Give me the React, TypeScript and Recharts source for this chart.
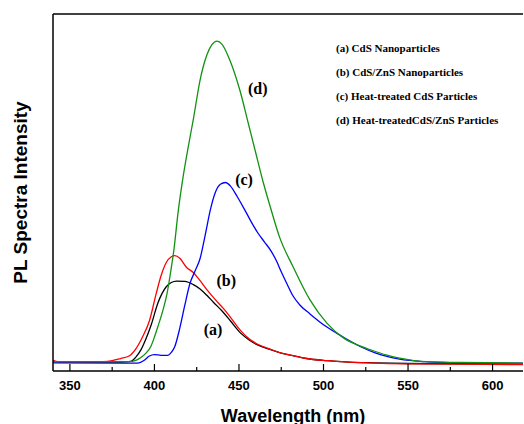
import { LineChart, Line, XAxis, YAxis, ReferenceDot } from 'recharts';

// wavelength (nm) / PL intensity (a.u., 0-100)
const waveA = [340, 360, 380, 386, 389, 392, 395, 398, 402, 407, 410, 413, 418, 423, 427, 431, 435, 440, 445, 451, 456, 461, 468, 475, 482, 490, 502, 515, 530, 550, 580, 618];
const intA = [2.6, 2.5, 2.5, 2.7, 3.9, 5.9, 9.0, 12.8, 19.0, 23.6, 24.8, 25.2, 25.1, 24.2, 23.0, 21.2, 19.2, 16.8, 14.0, 10.6, 8.7, 7.3, 6.1, 5.0, 4.3, 3.5, 2.9, 2.5, 2.3, 2.1, 2.0, 1.9];

const waveB = [340, 344, 360, 370, 375, 380, 385, 389, 393, 397, 401, 404, 407, 410, 412, 415, 419, 423, 427, 431, 436, 441, 446, 451, 456, 461, 468, 475, 482, 490, 502, 515, 530, 550, 580, 618];
const intB = [3.0, 2.5, 2.5, 2.6, 2.9, 3.5, 4.2, 6.2, 9.6, 14.0, 21.6, 26.8, 30.4, 32.0, 32.3, 31.6, 29.0, 27.6, 25.3, 22.8, 20.0, 17.4, 14.4, 11.3, 9.0, 7.5, 6.2, 5.0, 4.3, 3.5, 2.9, 2.5, 2.2, 2.0, 1.9, 1.8];

const waveC = [340, 380, 390, 394, 397, 400, 404, 408, 410, 412, 415, 418, 421, 424, 427, 430, 433, 436, 439, 442, 445, 449, 453, 457, 461, 465, 469, 472, 475, 478, 482, 486, 492, 502, 512, 522, 531, 545, 560, 580, 618];
const intC = [2.3, 2.2, 2.2, 3.0, 4.2, 4.6, 4.4, 4.4, 5.2, 6.8, 12.0, 18.5, 24.5, 28.0, 31.5, 38.0, 45.0, 50.0, 52.3, 52.8, 51.8, 48.8, 45.5, 42.0, 38.8, 36.2, 33.6, 31.0, 27.8, 24.8, 21.0, 18.5, 16.0, 12.3, 9.4, 6.8, 5.0, 3.3, 2.6, 2.3, 2.2];

const waveD = [340, 370, 385, 389, 392, 395, 398, 400, 402, 405, 407.5, 409.5, 411.5, 414, 417, 420, 423, 427, 431, 434, 437, 440, 444.5, 450.5, 455.5, 459.5, 464.5, 468.5, 474, 482, 492, 502, 512, 520, 528, 537, 545, 561, 580, 618];
const intD = [2.6, 2.6, 2.6, 3.0, 3.8, 5.0, 7.0, 9.5, 12.4, 17.0, 21.8, 27.5, 33.9, 44.5, 54.5, 62.8, 70.5, 81.5, 88.5, 91.4, 92.4, 91.5, 87.2, 78.7, 69.4, 61.9, 52.6, 46.0, 37.5, 29.2, 19.9, 13.4, 9.2, 7.3, 5.9, 4.5, 3.6, 2.6, 2.4, 2.2];

const seriesNames = [
  '(a) CdS Nanoparticles',
  '(b) CdS/ZnS Nanoparticles',
  '(c) Heat-treated CdS Particles',
  '(d) Heat-treatedCdS/ZnS Particles',
];
const seriesColors = ['#000000', '#ff0000', '#0000ff', '#129212'];

// curve tags placed in data space
const tagText = ['(a)', '(b)', '(c)', '(d)'];
const tagWave = [434.7, 442.5, 453, 461.1];
const tagInt = [11.8, 25.5, 53.8, 79.3];

const xTicks = [350, 375, 400, 425, 450, 475, 500, 525, 550, 575, 600];

const zip = (xs: number[], ys: number[]) => xs.map((x, i) => ({ x, y: ys[i] }));
const series = [zip(waveA, intA), zip(waveB, intB), zip(waveC, intC), zip(waveD, intD)];

const sans = 'Liberation Sans, Arial, sans-serif';
const serif = 'Liberation Serif, Times New Roman, serif';

function WaveTick(props: any) {
  const { x, y, payload } = props;
  const major = payload.value % 50 === 0;
  return (
    <g>
      <line x1={x} x2={x} y1={y} y2={y - (major ? 7 : 4)} stroke="#000" strokeWidth={1.2} />
      {major && (
        <text x={x} y={y + 18.6} textAnchor="middle" fontFamily={sans} fontWeight="bold" fontSize={13} fill="#000">
          {payload.value}
        </text>
      )}
    </g>
  );
}

export default function App() {
  return (
    <div style={{ position: 'absolute', left: 0, top: 0, width: 524, height: 424, background: '#fff' }}>
      <LineChart width={524} height={424} margin={{ top: 13, right: 1, bottom: 0, left: 52 }}>
        <XAxis
          type="number"
          dataKey="x"
          domain={[340, 618]}
          allowDataOverflow
          ticks={xTicks}
          interval={0}
          tickLine={false}
          tickSize={0}
          tickMargin={0}
          tick={<WaveTick />}
          axisLine={{ stroke: '#000', strokeWidth: 1.5 }}
          height={53}
          label={{
            content: (p: any) => (
              <text
                x={p.viewBox.x + p.viewBox.width / 2 + 5}
                y={p.viewBox.y + 50.5}
                textAnchor="middle"
                fontFamily={sans}
                fontWeight="bold"
                fontSize={18}
                fill="#000"
              >
                Wavelength (nm)
              </text>
            ),
          }}
        />
        <XAxis
          xAxisId="top"
          orientation="top"
          type="number"
          domain={[340, 618]}
          allowDataOverflow
          tick={false}
          tickLine={false}
          height={1}
          axisLine={{ stroke: '#000', strokeWidth: 1.5 }}
        />
        <YAxis
          type="number"
          domain={[0, 100]}
          allowDataOverflow
          width={1}
          tick={false}
          tickLine={false}
          axisLine={{ stroke: '#000', strokeWidth: 1.5 }}
          label={{
            content: (p: any) => {
              const cx = p.viewBox.x - 32;
              const cy = p.viewBox.y + p.viewBox.height / 2;
              return (
                <text
                  x={cx}
                  y={cy}
                  transform={`rotate(-90 ${cx} ${cy})`}
                  textAnchor="middle"
                  dominantBaseline="central"
                  fontFamily={sans}
                  fontWeight="bold"
                  fontSize={19}
                  fill="#000"
                >
                  PL Spectra Intensity
                </text>
              );
            },
          }}
        />
        {series.map((d, i) => (
          <Line
            key={seriesNames[i]}
            data={d}
            dataKey="y"
            type="monotone"
            stroke={seriesColors[i]}
            strokeWidth={1.3}
            dot={false}
            activeDot={false}
            isAnimationActive={false}
          />
        ))}
        {tagText.map((t, i) => (
          <ReferenceDot
            key={t}
            x={tagWave[i]}
            y={tagInt[i]}
            r={0}
            fill="none"
            stroke="none"
            label={{ value: t, position: 'center', fontFamily: serif, fontWeight: 'bold', fontSize: 16, fill: '#000' }}
          />
        ))}
      </LineChart>
      <div
        style={{
          position: 'absolute',
          left: 336,
          top: 36,
          fontFamily: serif,
          fontWeight: 'bold',
          fontSize: 11,
          lineHeight: '24px',
          whiteSpace: 'nowrap',
          color: '#000',
        }}
      >
        {seriesNames.map((n) => (
          <div key={n}>{n}</div>
        ))}
      </div>
    </div>
  );
}
